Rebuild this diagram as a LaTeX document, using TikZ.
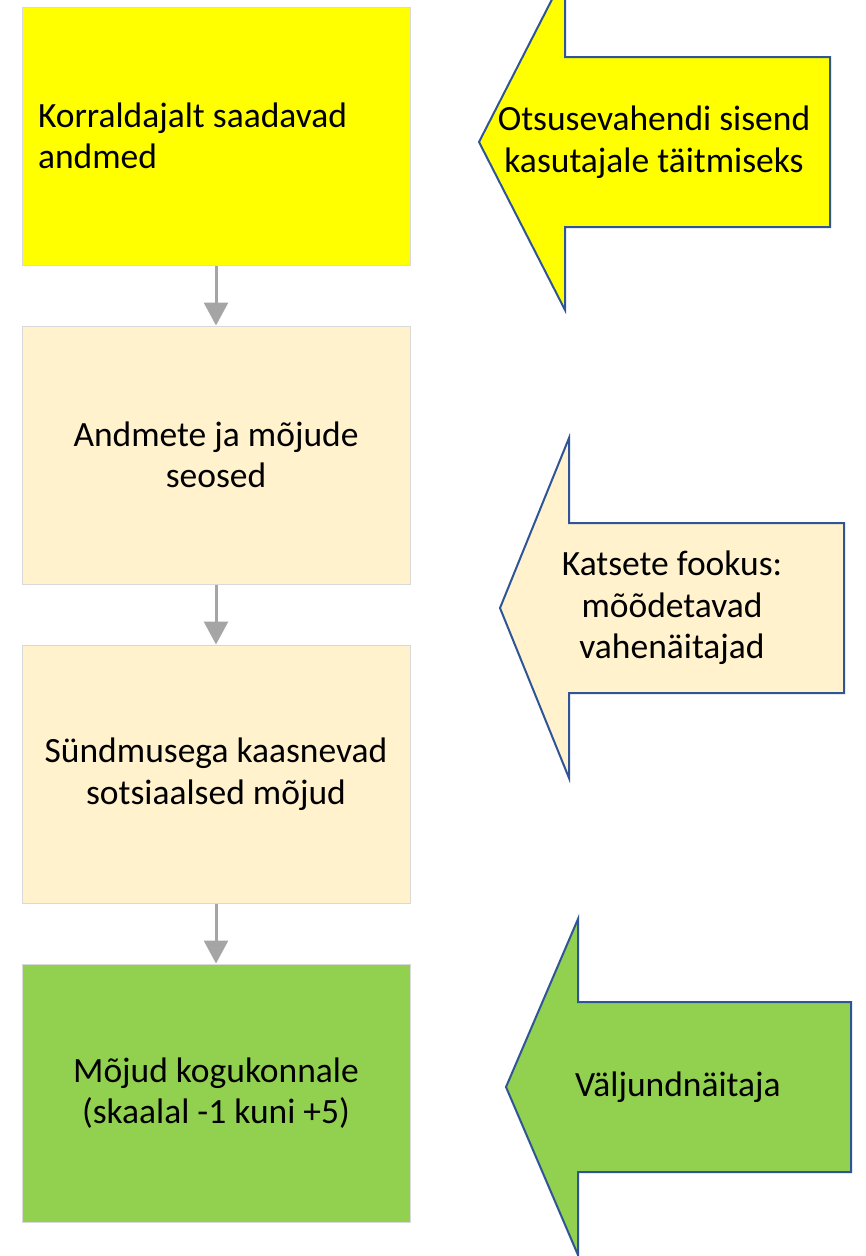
\documentclass[tikz,border=0pt]{standalone}
\usepackage{fontspec}
\setmainfont{Carlito}
\usetikzlibrary{positioning}
\usetikzlibrary{arrows.meta}

\definecolor{boxyellow}{HTML}{FFFF00}
\definecolor{boxbeige}{HTML}{FFF2CC}
\definecolor{boxgreen}{HTML}{92D050}
\definecolor{edgeblue}{HTML}{2F5597}
\definecolor{linkgray}{HTML}{A5A5A5}

% tip x, tip y, head base x, right x, shaft half, head half, fill
\newcommand\sidearrow[7]{%
    \draw[sidebody, fill=#7] (#1,#2) -- (#3,#2-#6) -- (#3,#2-#5) -- (#4,#2-#5)
        -- (#4,#2+#5) -- (#3,#2+#5) -- (#3,#2+#6) -- cycle;}

\tikzset{
    stage/.style={draw=black!15, line width=1pt, minimum width=388pt,
        minimum height=258pt, inner sep=0pt, align=flush center,
        font=\fontsize{35.5}{41.5}\selectfont},
    sidebody/.style={draw=edgeblue, line width=2pt, line join=miter},
    sidetext/.style={align=flush center, font=\fontsize{35.5}{41.5}\selectfont},
    link/.style={draw=linkgray, line width=3pt,
        -{Triangle[width=24pt,length=23pt]}}
}

\begin{document}
\begin{tikzpicture}[x=1pt, y=-1pt, node distance=60pt]
        \useasboundingbox (0,0) rectangle (866,1256);
        \clip (0,0) rectangle (866,1256);

        \node[stage, fill=boxyellow, text width=356pt, inner xsep=16pt, align=flush left] (data) at (216,136)
            {Korraldajalt saadavad\\andmed};
        \node[stage, fill=boxbeige, below=of data] (links) {Andmete ja mõjude\\seosed};
        \node[stage, fill=boxbeige, below=of links] (social) {Sündmusega kaasnevad\\sotsiaalsed mõjud};
        \node[stage, fill=boxgreen, below=of social] (community) {Mõjud kogukonnale\\(skaalal -1 kuni +5)};

        \draw[link] (data) -- (links);
        \draw[link] (links) -- (social);
        \draw[link] (social) -- (community);

        \sidearrow{479}{142}{565}{830}{85}{168}{boxyellow}
        \node[sidetext] (input) at (654,142) {Otsusevahendi sisend\\kasutajale täitmiseks};

        \sidearrow{500}{608}{569}{844}{85}{170}{boxbeige}
        \node[sidetext] (focus) at (672,608) {Katsete fookus:\\mõõdetavad\\vahenäitajad};

        \sidearrow{506}{1087}{578}{851}{85}{168}{boxgreen}
        \node[sidetext] (output) at (678,1087) {Väljundnäitaja};

    \end{tikzpicture}
\end{document}
